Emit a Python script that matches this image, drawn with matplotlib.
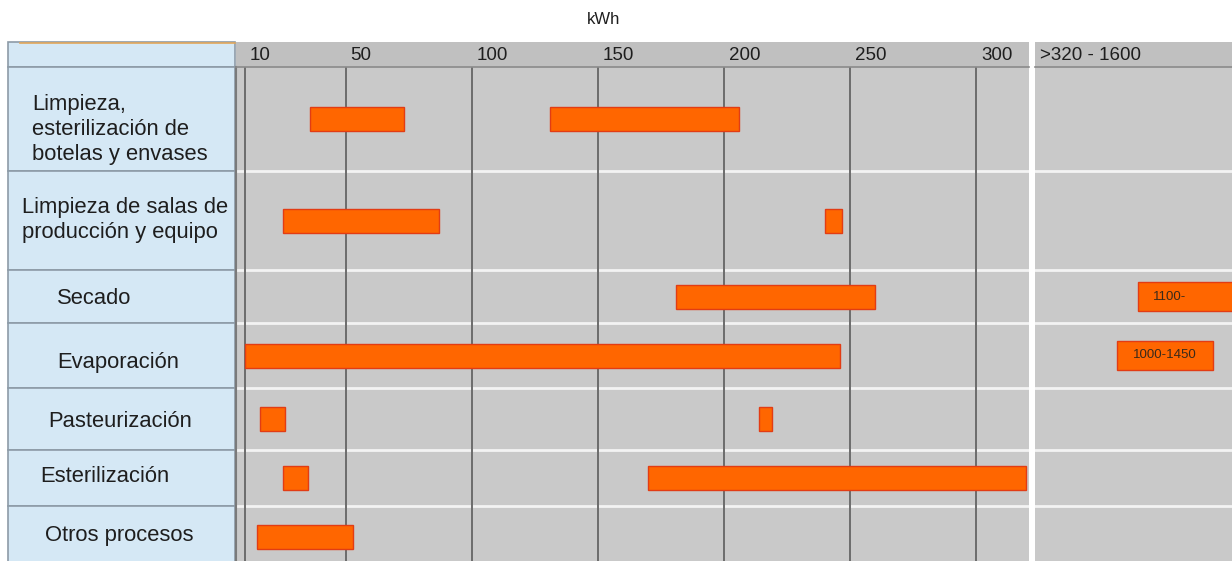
import matplotlib
matplotlib.use("Agg")
import matplotlib.pyplot as plt
from matplotlib.patches import Rectangle

# ---- data -------------------------------------------------------------
processes = [
    "Limpieza,\nesterilización de\nbotelas y envases",
    "Limpieza de salas de\nproducción y equipo",
    "Secado",
    "Evaporación",
    "Pasteurización",
    "Esterilización",
    "Otros procesos",
]
# first consumption range (kWh)
range1_start = [36, 25, 181, 10, 16, 25, 15]
range1_end = [73, 87, 260, 246, 26, 35, 53]
# second consumption range (kWh), None where absent
range2_start = [131, 240, None, None, 214, 170, None]
range2_end = [206, 247, None, None, 219, 320, None]
# very high consumption (>320 kWh section)
range3_start = [None, None, 1100, 1000, None, None, None]
range3_end = [None, None, 1600, 1450, None, None, None]
range3_labels = [None, None, "1100-", "1000-1450", None, None, None]

tick_values = [10, 50, 100, 150, 200, 250, 300]
break_label = ">320 - 1600"
unit_label = "kWh"

# ---- layout (pixels) --------------------------------------------------
W, H = 1232, 561
fig = plt.figure(figsize=(W / 100, H / 100), dpi=100)
fig.patch.set_facecolor("white")

HEAD_TOP, HEAD_BOT = 42, 67
PANEL_L, PANEL_R = 8, 235
PLOT_L, PLOT_R = 236, 1029
BRK_L, BRK_R = 1035, 1232
row_edges = [67, 171, 270, 323, 388, 450, 506, 567]
row_centers = [(a + b) / 2 for a, b in zip(row_edges[:-1], row_edges[1:])]
label_x = [32, 22, 57, 57, 48, 40, 45]
label_y = [129, 220, 298, 362, 421, 476, 536]

BAR_FC = "#ff6600"
BAR_EC = "#e23c14"
GREY = "#c9c9c9"
HEAD_GREY = "#c0c0c0"
BLUE = "#d5e8f5"
CELL_EDGE = "#8d9ba7"
TXT = "#1e1e1e"
FONT = "Liberation Sans"


def px_rect(x0, y0, x1, y1):
    return [x0 / W, 1 - y1 / H, (x1 - x0) / W, (y1 - y0) / H]


# background layer in pixel coordinates
bg = fig.add_axes([0, 0, 1, 1], zorder=-1)
bg.set_xlim(0, W)
bg.set_ylim(H, 0)
bg.axis("off")

# header strips
bg.add_patch(Rectangle((PLOT_L, HEAD_TOP), PLOT_R - PLOT_L, HEAD_BOT - HEAD_TOP,
                       fc=HEAD_GREY, ec="none"))
bg.add_patch(Rectangle((BRK_L, HEAD_TOP), BRK_R - BRK_L, HEAD_BOT - HEAD_TOP,
                       fc=HEAD_GREY, ec="none"))

# left label panel
bg.add_patch(Rectangle((PANEL_L, HEAD_TOP), PANEL_R - PANEL_L, HEAD_BOT - HEAD_TOP,
                       fc=BLUE, ec=CELL_EDGE, lw=1.2))
bg.plot([PANEL_L + 12, PANEL_R], [HEAD_TOP + 0.5, HEAD_TOP + 0.5], color="#e2a65a", lw=1.2)
for i, name in enumerate(processes):
    y0, y1 = row_edges[i], row_edges[i + 1]
    bg.add_patch(Rectangle((PANEL_L, y0), PANEL_R - PANEL_L, y1 - y0,
                           fc=BLUE, ec=CELL_EDGE, lw=1.2))
    bg.text(label_x[i], label_y[i], name, ha="left", va="center", fontsize=15.8,
            family=FONT, color=TXT, linespacing=1.25)

fig.text(604 / W, 1 - 20 / H, unit_label, ha="center", va="center", fontsize=12,
         family=FONT, color=TXT)

# ---- main axis (kWh up to ~320) ------------------------------------------
ax = fig.add_axes(px_rect(PLOT_L, HEAD_BOT, PLOT_R, H))
ax.set_facecolor(GREY)
ax.set_xlim(6.5, 321)
ax.set_ylim(H, HEAD_BOT)
ax.set_xticks([])
ax.set_yticks([])
for side in ("right", "bottom"):
    ax.spines[side].set_visible(False)
ax.spines["left"].set_color("#7a7a7a")
ax.spines["left"].set_linewidth(1.5)
ax.spines["top"].set_color("#8a8a8a")
ax.spines["top"].set_linewidth(1.2)

for e in row_edges[1:-1]:
    ax.axhline(e, color="#f3f3f3", lw=2, zorder=1)
for t in tick_values:
    ax.axvline(t, color="#6c6c6c", lw=1.4, zorder=2)
    ax.annotate(str(t), xy=(t, 1), xycoords=("data", "axes fraction"),
                xytext=(5, 12), textcoords="offset pixels", ha="left", va="center",
                fontsize=13.5, family=FONT, color=TXT, annotation_clip=False)

for i in range(len(processes)):
    for s, e in ((range1_start[i], range1_end[i]), (range2_start[i], range2_end[i])):
        if s is None:
            continue
        ax.barh(row_centers[i], e - s, left=s, height=24, color=BAR_FC,
                edgecolor=BAR_EC, lw=1, zorder=3)

# ---- break section (>320 kWh) --------------------------------------------
ax2 = fig.add_axes(px_rect(BRK_L, HEAD_BOT, BRK_R, H))
ax2.set_facecolor(GREY)
ax2.set_xlim(612, 1541)
ax2.set_ylim(H, HEAD_BOT)
ax2.set_xticks([])
ax2.set_yticks([])
for side in ("left", "right", "bottom"):
    ax2.spines[side].set_visible(False)
ax2.spines["top"].set_color("#8a8a8a")
ax2.spines["top"].set_linewidth(1.2)
for e in row_edges[1:-1]:
    ax2.axhline(e, color="#f3f3f3", lw=2, zorder=1)
ax2.annotate(break_label, xy=(0, 1), xycoords="axes fraction", xytext=(5, 12),
             textcoords="offset pixels", ha="left", va="center", fontsize=13.5,
             family=FONT, color=TXT, annotation_clip=False)

for i in range(len(processes)):
    s, e = range3_start[i], range3_end[i]
    if s is None:
        continue
    ax2.barh(row_centers[i], e - s, left=s, height=29, color=BAR_FC,
             edgecolor=BAR_EC, lw=1, zorder=3)
    lab = range3_labels[i]
    if lab.endswith("-"):
        ax2.annotate(lab, xy=(s, row_centers[i]), xytext=(14, 0),
                     textcoords="offset pixels", ha="left", va="center",
                     fontsize=9.5, family=FONT, color="#3a2a1a", zorder=4)
    else:
        ax2.text((s + e) / 2, row_centers[i], lab, ha="center", va="center",
                 fontsize=9.5, family=FONT, color="#3a2a1a", zorder=4)

fig.savefig("out.png", dpi=100, facecolor="white")
